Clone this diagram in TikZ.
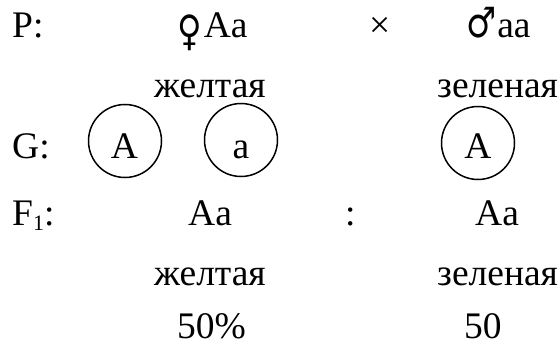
\documentclass[tikz,border=0pt]{standalone}
\usepackage{fontspec}
\usepackage{graphicx}
\setmainfont{Liberation Serif}
\newfontfamily\symfont{DejaVu Sans}
\newcommand{\sexsym}[2]{\raisebox{#2}{\scalebox{0.8}[1]{\symfont\fontsize{42}{44}\selectfont #1}}}
\begin{document}
\begin{tikzpicture}[x=1pt,y=-1pt,
  txt/.style={anchor=base west,inner sep=0pt,font=\fontsize{37.5}{40}\selectfont},
  gtxt/.style={anchor=base,inner sep=0pt,font=\fontsize{37.5}{40}\selectfont},
  gam/.style={circle,draw,line width=1.5pt,minimum size=73pt,inner sep=0pt}]
\useasboundingbox (0,0) rectangle (559,350);
% row P
\node[txt] (p) at (12,38) {P:};
\node[txt] (fem) at (177,38) {\sexsym{♀}{-8pt}\kern2pt Aa};
\node[txt] (x) at (369,38) {×};
\node[txt] (mal) at (466,38) {\sexsym{♂}{0pt}\kern1pt aa};
% phenotypes
\node[txt] (ph1) at (154,98) {желтая};
\node[txt] (ph2) at (437,98) {зеленая};
% gametes
\node[txt] (g) at (12,158) {G:};
\node[gam] (c1) at (125,141) {};
\node[gam] (c2) at (241,140) {};
\node[gam] (c3) at (478,143) {};
\node[gtxt] (t1) at (124.5,158) {A};
\node[gtxt] (t2) at (241,158) {a};
\node[gtxt] (t3) at (478,158) {A};
% F1
\node[txt] (f) at (12,225) {F\raisebox{-5pt}{\fontsize{22}{24}\selectfont 1}:};
\node[txt] (o1) at (188,225) {Aa};
\node[txt] (col) at (345,225) {:};
\node[txt] (o2) at (475,225) {Aa};
\node[txt] (ph3) at (154,285) {желтая};
\node[txt] (ph4) at (437,285) {зеленая};
\node[txt] (r1) at (177,338) {50\%};
\node[txt] (r2) at (464,338) {50};
\end{tikzpicture}
\end{document}
